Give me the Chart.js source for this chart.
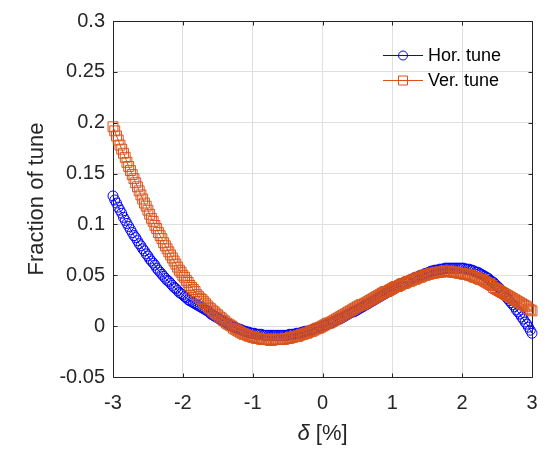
<!DOCTYPE html>
<html>
<head>
<meta charset="utf-8">
<title>Fraction of tune</title>
<script src="https://cdn.jsdelivr.net/npm/chart.js@4.4.1/dist/chart.umd.min.js"></script>
<style>
  html, body { margin: 0; padding: 0; background: #fff; }
  #grafico-tune { display: block; }
</style>
</head>
<body>
<canvas id="grafico-tune" width="556" height="449"></canvas>
<script>
// delta [%]
const delta = [
  -3, -2.975, -2.95, -2.925, -2.9, -2.875, -2.85, -2.825, -2.8, -2.775, -2.75, -2.725, -2.7, -2.675, -2.65, -2.625,
  -2.6, -2.575, -2.55, -2.525, -2.5, -2.475, -2.45, -2.425, -2.4, -2.375, -2.35, -2.325, -2.3, -2.275, -2.25, -2.225,
  -2.2, -2.175, -2.15, -2.125, -2.1, -2.075, -2.05, -2.025, -2, -1.975, -1.95, -1.925, -1.9, -1.875, -1.85, -1.825,
  -1.8, -1.775, -1.75, -1.725, -1.7, -1.675, -1.65, -1.625, -1.6, -1.575, -1.55, -1.525, -1.5, -1.475, -1.45, -1.425,
  -1.4, -1.375, -1.35, -1.325, -1.3, -1.275, -1.25, -1.225, -1.2, -1.175, -1.15, -1.125, -1.1, -1.075, -1.05, -1.025,
  -1, -0.975, -0.95, -0.925, -0.9, -0.875, -0.85, -0.825, -0.8, -0.775, -0.75, -0.725, -0.7, -0.675, -0.65, -0.625,
  -0.6, -0.575, -0.55, -0.525, -0.5, -0.475, -0.45, -0.425, -0.4, -0.375, -0.35, -0.325, -0.3, -0.275, -0.25, -0.225,
  -0.2, -0.175, -0.15, -0.125, -0.1, -0.075, -0.05, -0.025, 0, 0.025, 0.05, 0.075, 0.1, 0.125, 0.15, 0.175,
  0.2, 0.225, 0.25, 0.275, 0.3, 0.325, 0.35, 0.375, 0.4, 0.425, 0.45, 0.475, 0.5, 0.525, 0.55, 0.575,
  0.6, 0.625, 0.65, 0.675, 0.7, 0.725, 0.75, 0.775, 0.8, 0.825, 0.85, 0.875, 0.9, 0.925, 0.95, 0.975,
  1, 1.025, 1.05, 1.075, 1.1, 1.125, 1.15, 1.175, 1.2, 1.225, 1.25, 1.275, 1.3, 1.325, 1.35, 1.375,
  1.4, 1.425, 1.45, 1.475, 1.5, 1.525, 1.55, 1.575, 1.6, 1.625, 1.65, 1.675, 1.7, 1.725, 1.75, 1.775,
  1.8, 1.825, 1.85, 1.875, 1.9, 1.925, 1.95, 1.975, 2, 2.025, 2.05, 2.075, 2.1, 2.125, 2.15, 2.175,
  2.2, 2.225, 2.25, 2.275, 2.3, 2.325, 2.35, 2.375, 2.4, 2.425, 2.45, 2.475, 2.5, 2.525, 2.55, 2.575,
  2.6, 2.625, 2.65, 2.675, 2.7, 2.725, 2.75, 2.775, 2.8, 2.825, 2.85, 2.875, 2.9, 2.925, 2.95, 2.975,
  3
];

// horizontal tune (fraction)
const horTune = [
  0.128, 0.124, 0.121, 0.117, 0.114, 0.111, 0.107, 0.104, 0.101, 0.098, 0.095, 0.092, 0.089, 0.087, 0.084, 0.081,
  0.079, 0.076, 0.074, 0.071, 0.069, 0.066, 0.064, 0.062, 0.060, 0.057, 0.055, 0.053, 0.051, 0.049, 0.047, 0.045,
  0.044, 0.042, 0.040, 0.038, 0.037, 0.035, 0.033, 0.032, 0.031, 0.029, 0.028, 0.026, 0.025, 0.024, 0.023, 0.022,
  0.021, 0.020, 0.019, 0.018, 0.017, 0.016, 0.015, 0.014, 0.012, 0.011, 0.010, 0.009, 0.008, 0.007, 0.006, 0.005,
  0.004, 0.003, 0.002, 0.001, 0, -0.001, -0.001, -0.002, -0.003, -0.003, -0.004, -0.005, -0.005, -0.006, -0.006, -0.007,
  -0.007, -0.007, -0.008, -0.008, -0.008, -0.008, -0.009, -0.009, -0.009, -0.009, -0.009, -0.009, -0.009, -0.009, -0.009, -0.009,
  -0.009, -0.009, -0.009, -0.009, -0.009, -0.008, -0.008, -0.008, -0.008, -0.007, -0.007, -0.007, -0.006, -0.006, -0.005, -0.005,
  -0.005, -0.004, -0.004, -0.003, -0.002, -0.002, -0.001, -0.001, 0, 0.001, 0.001, 0.002, 0.003, 0.003, 0.004, 0.005,
  0.006, 0.007, 0.007, 0.008, 0.009, 0.010, 0.011, 0.012, 0.013, 0.014, 0.014, 0.015, 0.016, 0.017, 0.018, 0.019,
  0.020, 0.021, 0.022, 0.023, 0.024, 0.025, 0.026, 0.027, 0.028, 0.029, 0.030, 0.031, 0.032, 0.033, 0.034, 0.035,
  0.036, 0.037, 0.038, 0.039, 0.040, 0.041, 0.042, 0.043, 0.043, 0.044, 0.045, 0.046, 0.047, 0.048, 0.048, 0.049,
  0.050, 0.050, 0.051, 0.052, 0.052, 0.053, 0.054, 0.054, 0.055, 0.055, 0.055, 0.056, 0.056, 0.056, 0.057, 0.057,
  0.057, 0.057, 0.057, 0.057, 0.057, 0.057, 0.057, 0.057, 0.057, 0.057, 0.056, 0.056, 0.056, 0.055, 0.055, 0.054,
  0.053, 0.053, 0.052, 0.051, 0.050, 0.049, 0.048, 0.047, 0.045, 0.044, 0.043, 0.041, 0.039, 0.038, 0.036, 0.034,
  0.032, 0.029, 0.027, 0.025, 0.023, 0.021, 0.019, 0.016, 0.014, 0.012, 0.009, 0.007, 0.004, 0.002, -0.001, -0.004,
  -0.007
];

// vertical tune (fraction)
const verTune = [
  0.196, 0.192, 0.187, 0.183, 0.178, 0.174, 0.170, 0.166, 0.161, 0.157, 0.153, 0.149, 0.145, 0.141, 0.137, 0.133,
  0.129, 0.125, 0.121, 0.118, 0.114, 0.110, 0.106, 0.103, 0.099, 0.096, 0.092, 0.089, 0.086, 0.082, 0.079, 0.076,
  0.073, 0.070, 0.067, 0.064, 0.061, 0.058, 0.055, 0.053, 0.050, 0.048, 0.045, 0.043, 0.040, 0.038, 0.036, 0.034,
  0.031, 0.029, 0.027, 0.026, 0.024, 0.022, 0.020, 0.018, 0.017, 0.015, 0.014, 0.012, 0.011, 0.009, 0.008, 0.006,
  0.005, 0.003, 0.002, 0.001, 0, -0.002, -0.003, -0.004, -0.005, -0.006, -0.007, -0.008, -0.008, -0.009, -0.010, -0.010,
  -0.011, -0.011, -0.012, -0.012, -0.012, -0.013, -0.013, -0.013, -0.013, -0.013, -0.014, -0.014, -0.013, -0.013, -0.013, -0.013,
  -0.013, -0.013, -0.013, -0.012, -0.012, -0.012, -0.011, -0.011, -0.010, -0.010, -0.010, -0.009, -0.008, -0.008, -0.007, -0.007,
  -0.006, -0.005, -0.005, -0.004, -0.003, -0.002, -0.002, -0.001, 0, 0.001, 0.002, 0.003, 0.003, 0.004, 0.005, 0.006,
  0.007, 0.008, 0.009, 0.010, 0.011, 0.012, 0.013, 0.014, 0.015, 0.016, 0.017, 0.018, 0.019, 0.020, 0.021, 0.021,
  0.022, 0.023, 0.024, 0.025, 0.026, 0.027, 0.028, 0.029, 0.030, 0.031, 0.032, 0.033, 0.034, 0.034, 0.035, 0.036,
  0.037, 0.038, 0.039, 0.039, 0.040, 0.041, 0.042, 0.042, 0.043, 0.044, 0.044, 0.045, 0.046, 0.046, 0.047, 0.048,
  0.048, 0.049, 0.050, 0.050, 0.051, 0.051, 0.052, 0.052, 0.052, 0.053, 0.053, 0.053, 0.053, 0.054, 0.054, 0.054,
  0.054, 0.054, 0.053, 0.053, 0.053, 0.053, 0.052, 0.052, 0.052, 0.051, 0.051, 0.051, 0.050, 0.050, 0.049, 0.048,
  0.048, 0.047, 0.046, 0.046, 0.045, 0.044, 0.043, 0.042, 0.041, 0.040, 0.038, 0.037, 0.036, 0.035, 0.034, 0.033,
  0.032, 0.031, 0.030, 0.029, 0.028, 0.027, 0.026, 0.025, 0.024, 0.023, 0.022, 0.021, 0.020, 0.019, 0.017, 0.016,
  0.015
];

const xTicks = [-3, -2, -1, 0, 1, 2, 3];
const yTicks = [-0.05, 0, 0.05, 0.1, 0.15, 0.2, 0.25, 0.3];
const seriesLabels = ['Hor. tune', 'Ver. tune'];

const FONTE = '"Liberation Sans", Arial, Helvetica, sans-serif';
const AZUL = 'rgb(0, 0, 255)';
const LARANJA = 'rgb(217, 83, 25)';
const EIXO = '#262626';

function pontos(valores) {
  return delta.map((d, i) => ({ x: d, y: valores[i] }));
}

// box, inward ticks, legend and x title (MATLAB look)
const molduraPlugin = {
  id: 'moldura',
  beforeDatasetsDraw(chart) {
    const { ctx, chartArea: a, scales } = chart;
    const l = Math.round(a.left) + 0.5, r = Math.round(a.right) + 0.5;
    const t = Math.round(a.top) + 0.5, b = Math.round(a.bottom) + 0.5;
    ctx.save();
    ctx.strokeStyle = EIXO;
    ctx.lineWidth = 1;
    ctx.beginPath();
    ctx.rect(l, t, r - l, b - t);
    xTicks.forEach(v => {
      const px = Math.round(scales.x.getPixelForValue(v)) + 0.5;
      ctx.moveTo(px, b); ctx.lineTo(px, b - 4);
      ctx.moveTo(px, t); ctx.lineTo(px, t + 4);
    });
    yTicks.forEach(v => {
      const py = Math.round(scales.y.getPixelForValue(v)) + 0.5;
      ctx.moveTo(l, py); ctx.lineTo(l + 4, py);
      ctx.moveTo(r, py); ctx.lineTo(r - 4, py);
    });
    ctx.stroke();
    ctx.restore();
  },
  afterDraw(chart) {
    const { ctx, chartArea: a } = chart;
    ctx.save();

    // legend (no box)
    chart.data.datasets.forEach((ds, i) => {
      const y = 55 + i * 25;
      ctx.strokeStyle = ds.borderColor;
      ctx.lineWidth = 1;
      ctx.beginPath();
      ctx.moveTo(383, y + 0.5);
      ctx.lineTo(423, y + 0.5);
      ctx.stroke();
      ctx.beginPath();
      if (ds.pointStyle === 'rect') {
        ctx.rect(398.5, y - 4, 9, 9);
      } else {
        ctx.arc(403, y + 0.5, 4.5, 0, Math.PI * 2);
      }
      ctx.stroke();
      ctx.fillStyle = '#000';
      ctx.font = '18px ' + FONTE;
      ctx.textBaseline = 'middle';
      ctx.textAlign = 'left';
      ctx.fillText(ds.label, 428, y + 1);
    });

    // x title: italic delta + " [%]"
    const cx = (a.left + a.right) / 2;
    const cy = 434;
    ctx.fillStyle = EIXO;
    ctx.textBaseline = 'middle';
    ctx.font = 'italic 22px ' + FONTE;
    const w1 = ctx.measureText('δ').width;
    ctx.font = '22px ' + FONTE;
    const resto = ' [%]';
    const w2 = ctx.measureText(resto).width;
    let x0 = cx - (w1 + w2) / 2;
    ctx.font = 'italic 22px ' + FONTE;
    ctx.fillText('δ', x0, cy);
    ctx.font = '22px ' + FONTE;
    ctx.fillText(resto, x0 + w1, cy);
    ctx.restore();
  }
};

function criarGrafico() {
  const canvas = document.getElementById('grafico-tune');
  const ctx = canvas.getContext('2d');

  new Chart(ctx, {
    type: 'line',
    data: {
      datasets: [
        {
          label: seriesLabels[0],
          data: pontos(horTune),
          borderColor: AZUL,
          borderWidth: 1,
          pointStyle: 'circle',
          pointRadius: 5,
          pointBorderWidth: 1,
          pointBorderColor: AZUL,
          pointBackgroundColor: 'rgba(0,0,0,0)',
          tension: 0,
          fill: false,
          clip: false,
          order: 1
        },
        {
          label: seriesLabels[1],
          data: pontos(verTune),
          borderColor: LARANJA,
          borderWidth: 1,
          pointStyle: 'rect',
          pointRadius: 7,
          pointBorderWidth: 1,
          pointBorderColor: LARANJA,
          pointBackgroundColor: 'rgba(0,0,0,0)',
          tension: 0,
          fill: false,
          clip: false,
          order: 0
        }
      ]
    },
    options: {
      responsive: false,
      animation: false,
      events: [],
      layout: { padding: { left: 0, right: 24, top: 21, bottom: 0 } },
      plugins: {
        legend: { display: false },
        tooltip: { enabled: false }
      },
      scales: {
        x: {
          type: 'linear',
          min: -3,
          max: 3,
          afterBuildTicks: scale => { scale.ticks = xTicks.map(v => ({ value: v })); },
          afterFit: scale => { scale.height = 72; },
          grid: { color: '#dfdfdf', drawTicks: false },
          border: { display: false },
          ticks: {
            padding: 14,
            color: EIXO,
            font: { family: FONTE, size: 20 },
            callback: v => String(v)
          }
        },
        y: {
          type: 'linear',
          min: -0.05,
          max: 0.3,
          afterBuildTicks: scale => { scale.ticks = yTicks.map(v => ({ value: v })); },
          afterFit: scale => { scale.width = 113; },
          grid: { color: '#dfdfdf', drawTicks: false },
          border: { display: false },
          title: {
            display: true,
            text: 'Fraction of tune',
            color: EIXO,
            font: { family: FONTE, size: 22 },
            padding: { top: 24, bottom: 0 }
          },
          ticks: {
            padding: 8,
            color: EIXO,
            font: { family: FONTE, size: 20 },
            callback: v => String(Math.round(v * 100) / 100)
          }
        }
      }
    },
    plugins: [molduraPlugin]
  });
}

if (document.readyState === 'loading') {
  document.addEventListener('DOMContentLoaded', criarGrafico);
} else {
  criarGrafico();
}
</script>
</body>
</html>
